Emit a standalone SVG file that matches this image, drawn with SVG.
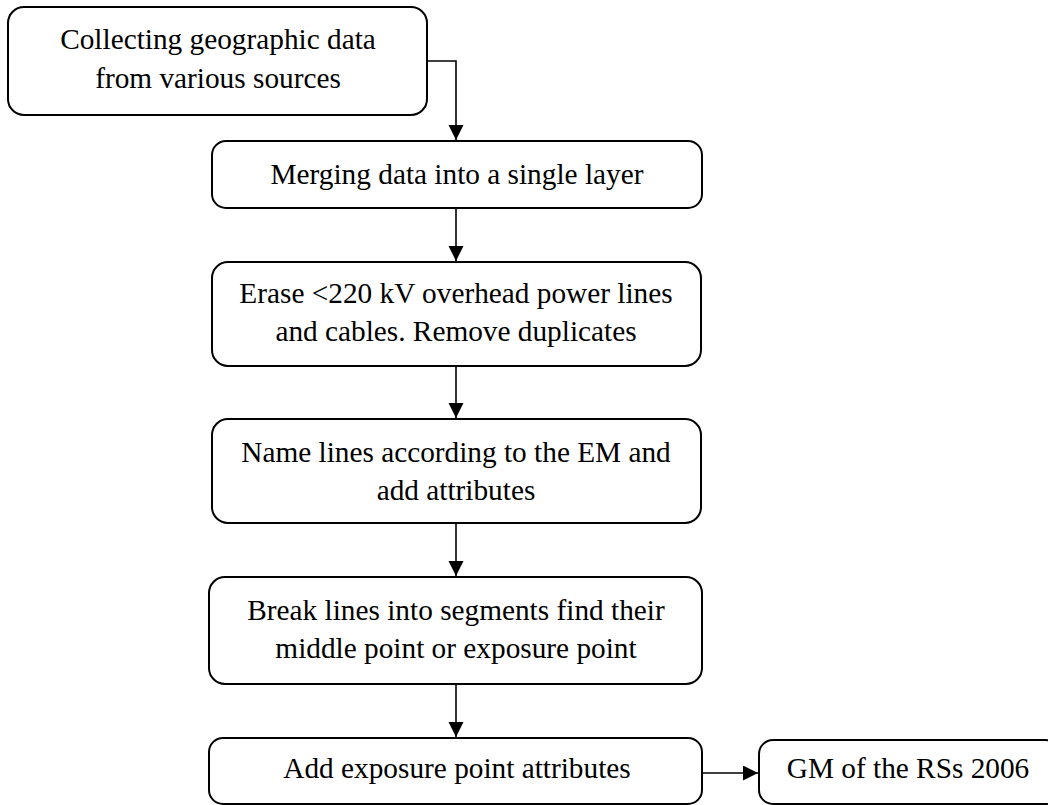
<svg xmlns="http://www.w3.org/2000/svg" width="1048" height="805" viewBox="0 0 1048 805">
  <style>
    .box { fill: #ffffff; stroke: #000000; stroke-width: 2; }
    .lbl { font-family: "Liberation Serif", "Times New Roman", serif; font-size: 29.3px; fill: #000000; text-anchor: middle; }
    .edge { fill: none; stroke: #000000; stroke-width: 1.6; }
  </style>
  <defs>
    <marker id="arrow" markerUnits="userSpaceOnUse" markerWidth="16" markerHeight="16" refX="15" refY="7.5" orient="auto">
      <path d="M0,0 L15,7.5 L0,15 Z" fill="#000000"/>
    </marker>
  </defs>
  <rect width="1048" height="805" fill="#ffffff"/>

  <g id="connectors">
    <path class="edge" d="M427,61 H456 V140" marker-end="url(#arrow)"/>
    <path class="edge" d="M456,208 V261" marker-end="url(#arrow)"/>
    <path class="edge" d="M456,366 V418" marker-end="url(#arrow)"/>
    <path class="edge" d="M456,523 V576" marker-end="url(#arrow)"/>
    <path class="edge" d="M456,684 V737" marker-end="url(#arrow)"/>
    <path class="edge" d="M702,773 H758" marker-end="url(#arrow)"/>
  </g>

  <g id="collect">
    <rect class="box" x="8" y="7" width="419" height="108" rx="16"/>
    <text class="lbl" x="218" y="49">Collecting geographic data</text>
    <text class="lbl" x="218" y="88">from various sources</text>
  </g>

  <g id="merge">
    <rect class="box" x="212" y="141" width="490" height="67" rx="14"/>
    <text class="lbl" x="457" y="184">Merging data into a single layer</text>
  </g>

  <g id="erase">
    <rect class="box" x="212" y="262" width="489" height="104" rx="16"/>
    <text class="lbl" x="456" y="303">Erase &lt;220 kV overhead power lines</text>
    <text class="lbl" x="456" y="341">and cables. Remove duplicates</text>
  </g>

  <g id="name">
    <rect class="box" x="212" y="419" width="489" height="104" rx="16"/>
    <text class="lbl" x="456" y="462">Name lines according to the EM and</text>
    <text class="lbl" x="456" y="500">add attributes</text>
  </g>

  <g id="break">
    <rect class="box" x="209" y="577" width="493" height="107" rx="16"/>
    <text class="lbl" x="456" y="620">Break lines into segments find their</text>
    <text class="lbl" x="456" y="658">middle point or exposure point</text>
  </g>

  <g id="exposure">
    <rect class="box" x="209" y="738" width="493" height="66" rx="14"/>
    <text class="lbl" x="457" y="778">Add exposure point attributes</text>
  </g>

  <g id="gm">
    <rect class="box" x="759" y="740" width="300" height="64" rx="14"/>
    <text class="lbl" x="908" y="778">GM of the RSs 2006</text>
  </g>
</svg>
